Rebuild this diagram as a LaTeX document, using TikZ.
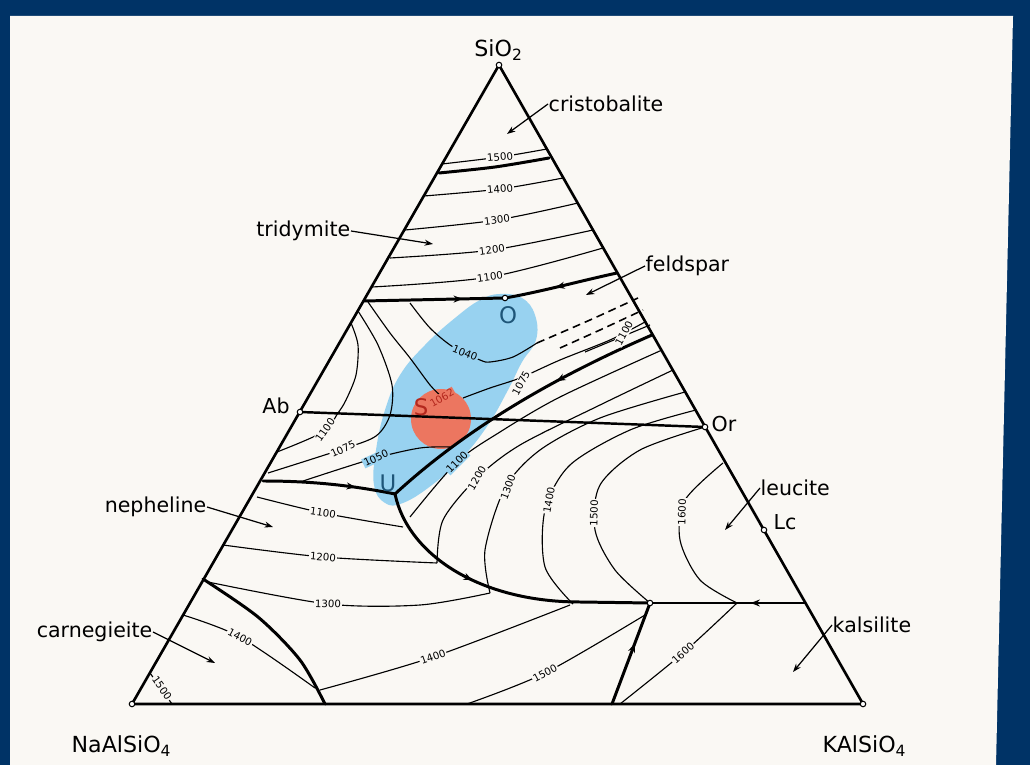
\documentclass[tikz,border=0pt]{standalone}
\usepackage{fontspec}
\setmainfont{DejaVu Sans}
\usetikzlibrary{arrows.meta,decorations.markings,positioning,calc}
\definecolor{navy}{RGB}{0,51,102}
\definecolor{paper}{RGB}{250,248,244}
\definecolor{zone}{RGB}{152,210,240}
\definecolor{spot}{RGB}{236,118,96}
\definecolor{ptxt}{RGB}{30,85,120}
\definecolor{stxt}{RGB}{180,40,30}
\begin{document}
\begin{tikzpicture}[
    x=0.1mm, y=-0.1mm,
    edge/.style={line width=0.75pt, line join=round},
    bound/.style={line width=0.85pt, line cap=round},
    iso/.style={line width=0.32pt},
    dashiso/.style={line width=0.45pt, dash pattern=on 0.8mm off 0.5mm},
    tval/.style={font=\fontsize{2.9}{3}\selectfont, fill=paper, inner sep=0.3pt},
    field/.style={font=\fontsize{5.85}{6}\selectfont, inner sep=0pt},
    vlab/.style={font=\fontsize{6.3}{7}\selectfont, inner sep=0pt},
    plab/.style={font=\fontsize{6.5}{7}\selectfont, inner sep=0pt},
    lead/.style={line width=0.35pt, -{Stealth[length=2.4pt,width=1.7pt]}},
    pt/.style={circle, draw, fill=white, inner sep=0pt, minimum size=0.55mm, line width=0.3pt},
    flow/.style={postaction={decorate, decoration={markings,
        mark=at position #1 with {\arrow{Stealth[length=2.6pt,width=2pt]}}}}}
  ]
  \useasboundingbox (0,0) rectangle (1030,765);
  \fill[navy] (0,0) rectangle (1030,765);
  \fill[paper] (10,16) -- (1013,16) -- (996,765) -- (10,765) -- cycle;

  % corners and points on the edges
  \coordinate (Ne) at (132,704);
  \coordinate (Ks) at (863,704);
  \coordinate (Q)  at (499,65);
  \coordinate (Ab) at (300,412);
  \coordinate (Or) at (705,427);
  \coordinate (Lc) at (764,530);
  \coordinate (O)  at (505,298);
  \coordinate (U)  at (395,494);
  \coordinate (R)  at (650,603);

  % shaded zones
  \fill[zone] plot[smooth cycle, tension=0.7] coordinates {(500,294) (522,298) (535,315)
    (536,340) (522,362) (508,390) (488,425) (462,458) (432,485) (403,503) (385,503)
    (374,485) (376,450) (385,410) (400,375) (425,345) (455,318) (480,300)};
  \fill[spot] (441,419) circle (3mm);

  % isotherms, silica fields
  \draw[iso] plot[smooth] coordinates {(442,164) (500,157) (547,149)};
  \draw[iso] plot[smooth] coordinates {(424,196) (500,189) (563,178)};
  \draw[iso] plot[smooth] coordinates {(405,230) (497,220) (578,203)};
  \draw[iso] plot[smooth] coordinates {(390,258) (492,250) (593,230)};
  \draw[iso] plot[smooth] coordinates {(372,287) (490,277) (603,248)};
  % isotherms, feldspar field
  \draw[iso] plot[smooth] coordinates {(351,323) (358,345) (356,375) (346,400) (338,413) (323,432) (277,452)};
  \draw[iso] plot[smooth] coordinates {(358,311) (378,345) (392,385) (390,415) (376,436) (343,449) (268,473)};
  \draw[iso] plot[smooth] coordinates {(300,482) (372,459) (420,448) (450,447)};
  \draw[iso] plot[smooth] coordinates {(368,302) (390,333) (410,358) (430,385) (441,396)};
  \draw[iso] plot[smooth] coordinates {(463,398) (490,388) (520,378) (560,360) (610,340) (645,322)};
  \draw[iso] plot[smooth] coordinates {(410,303) (430,328) (453,347) (480,360) (490,362) (513,357) (537,343)};
  \draw[dashiso] plot[smooth] coordinates {(537,343) (590,320) (638,298)};
  \draw[dashiso] plot[smooth] coordinates {(560,348) (600,330) (643,310)};
  \draw[iso] (585,352) -- (650,325);
  % isotherms, leucite field
  \draw[iso] plot[smooth] coordinates {(410,517) (457,462) (500,432) (560,397) (662,350)};
  \draw[iso] plot[smooth] coordinates {(437,563) (443,520) (477,478) (520,445) (600,405) (673,370)};
  \draw[iso] plot[smooth] coordinates {(490,593) (485,550) (505,488) (540,450) (600,418) (685,392)};
  \draw[iso] plot[smooth] coordinates {(573,604) (545,567) (545,510) (570,465) (630,430) (696,410)};
  \draw[iso] plot[smooth] coordinates {(650,603) (615,570) (595,530) (600,485) (640,450) (705,427)};
  \draw[iso] plot[smooth] coordinates {(737,603) (700,580) (680,540) (685,500) (723,463)};
  % isotherms, nepheline and carnegieite fields
  \draw[iso] plot[smooth] coordinates {(257,497) (323,513) (403,527)};
  \draw[iso] plot[smooth] coordinates {(223,545) (323,557) (437,563)};
  \draw[iso] plot[smooth] coordinates {(208,582) (328,604) (420,605) (490,593)};
  \draw[iso] plot[smooth] coordinates {(320,690) (433,657) (570,605)};
  \draw[iso] plot[smooth] coordinates {(183,615) (240,637) (315,688)};
  \draw[iso] (150,673) -- (172,704);
  % isotherms, kalsilite field
  \draw[iso] plot[smooth] coordinates {(645,615) (545,673) (467,704)};
  \draw[iso] plot[smooth] coordinates {(737,603) (683,653) (620,704)};

  % field boundaries
  \draw[bound] plot[smooth] coordinates {(439,173) (495,167) (549,158)};
  \draw[bound, flow=0.7] (364,301) -- (O);
  \draw[bound, flow=0.55] (617,273) .. controls (580,281) and (540,292) .. (O);
  \draw[bound, flow=0.7] (263,481) .. controls (310,481) and (350,485) .. (U);
  \draw[bound, flow=0.35] (652,335) .. controls (560,375) and (470,425) .. (U);
  \draw[bound, flow=0.4] (U) .. controls (408,555) and (480,602) .. (580,602) -- (R);
  \draw[bound, flow=0.35] (805,603) -- (R);
  \draw[bound, flow=0.6] (612,704) -- (R);
  \draw[bound] plot[smooth] coordinates {(203,579) (258,617) (300,660) (325,704)};

  % triangle and join
  \draw[edge] (Ne) -- (Ks) -- (Q) -- cycle;
  \draw[bound, line width=0.7pt] (Ab) -- (Or);

  % isotherm values
  \node[tval, rotate=5] (t1) at (500,157) {1500};
  \node[tval, rotate=5] (t2) at (500,189) {1400};
  \node[tval, rotate=7] (t3) at (497,220) {1300};
  \node[tval, rotate=8] (t4) at (492,250) {1200};
  \node[tval, rotate=8] (t5) at (490,277) {1100};
  \node[tval, rotate=55] (t6) at (325,430) {1100};
  \node[tval, rotate=25] (t7) at (343,449) {1075};
  \node[tval, rotate=25, fill=zone] (t8) at (376,458) {1050};
  \node[tval, rotate=-22, fill=zone] (t9) at (465,353) {1040};
  \node[tval, rotate=62] (t10) at (521,383) {1075};
  \node[tval, rotate=62] (t11) at (624,333) {1100};
  \node[tval, rotate=45, fill=zone] (t12) at (457,462) {1100};
  \node[tval, rotate=60] (t13) at (477,478) {1200};
  \node[tval, rotate=70] (t14) at (508,487) {1300};
  \node[tval, rotate=80] (t15) at (549,500) {1400};
  \node[tval, rotate=88] (t16) at (594,513) {1500};
  \node[tval, rotate=88] (t17) at (682,512) {1600};
  \node[tval, rotate=-8] (t18) at (323,513) {1100};
  \node[tval, rotate=-5] (t19) at (323,557) {1200};
  \node[tval, rotate=-2] (t20) at (328,604) {1300};
  \node[tval, rotate=20] (t21) at (433,657) {1400};
  \node[tval, rotate=-28] (t22) at (240,637) {1400};
  \node[tval, rotate=-55] (t23) at (162,688) {1500};
  \node[tval, rotate=28] (t24) at (545,673) {1500};
  \node[tval, rotate=42] (t25) at (683,653) {1600};
  \node[tval, rotate=30, fill=spot, text=stxt] (t26) at (442,398) {1062};

  % compositions
  \node[vlab] (qlab) at (499,50) {SiO\textsubscript{2}};
  \node[vlab] (nelab) at (122,746) {NaAlSiO\textsubscript{4}};
  \node[vlab] (kslab) at (865,746) {KAlSiO\textsubscript{4}};
  \node[field] (ablab) at (276,406) {Ab};
  \node[field] (orlab) at (724,424) {Or};
  \node[field, anchor=west] (lclab) at (773,522) {Lc};
  \node[plab, text=ptxt] (olab) at (508,315) {O};
  \node[plab, text=stxt] (slab) at (421,407) {S};
  \node[plab, text=ptxt] (ulab) at (388,483) {U};

  % phase fields
  \node[field, anchor=west] (cris) at (548,104) {cristobalite};
  \node[field, anchor=east] (trid) at (351,231) {tridymite};
  \node[field, anchor=west] (feld) at (645,266) {feldspar};
  \node[field, anchor=west] (leuc) at (760,488) {leucite};
  \node[field, anchor=west] (kals) at (832,625) {kalsilite};
  \node[field, anchor=east] (neph) at (207,507) {nepheline};
  \node[field, anchor=east] (carn) at (153,632) {carnegieite};
  \coordinate (crisP) at (507,134);
  \coordinate (tridP) at (433,244);
  \coordinate (feldP) at (586,295);
  \coordinate (leucP) at (725,530);
  \coordinate (kalsP) at (793,672);
  \coordinate (nephP) at (273,527);
  \coordinate (carnP) at (215,663);
  \draw[lead] (cris.west) -- (crisP);
  \draw[lead] (trid.east) -- (tridP);
  \draw[lead] (feld.west) -- (feldP);
  \draw[lead] (leuc.west) -- (leucP);
  \draw[lead] (kals.west) -- (kalsP);
  \draw[lead] (neph.east) -- (nephP);
  \draw[lead] (carn.east) -- (carnP);

  % small circles
  \node[pt] (pq) at (Q) {};
  \node[pt] (pne) at (Ne) {};
  \node[pt] (pks) at (Ks) {};
  \node[pt] (pab) at (Ab) {};
  \node[pt] (por) at (Or) {};
  \node[pt] (plc) at (Lc) {};
  \node[pt] (po) at (O) {};
  \node[pt] (pr) at (R) {};
\end{tikzpicture}
\end{document}
